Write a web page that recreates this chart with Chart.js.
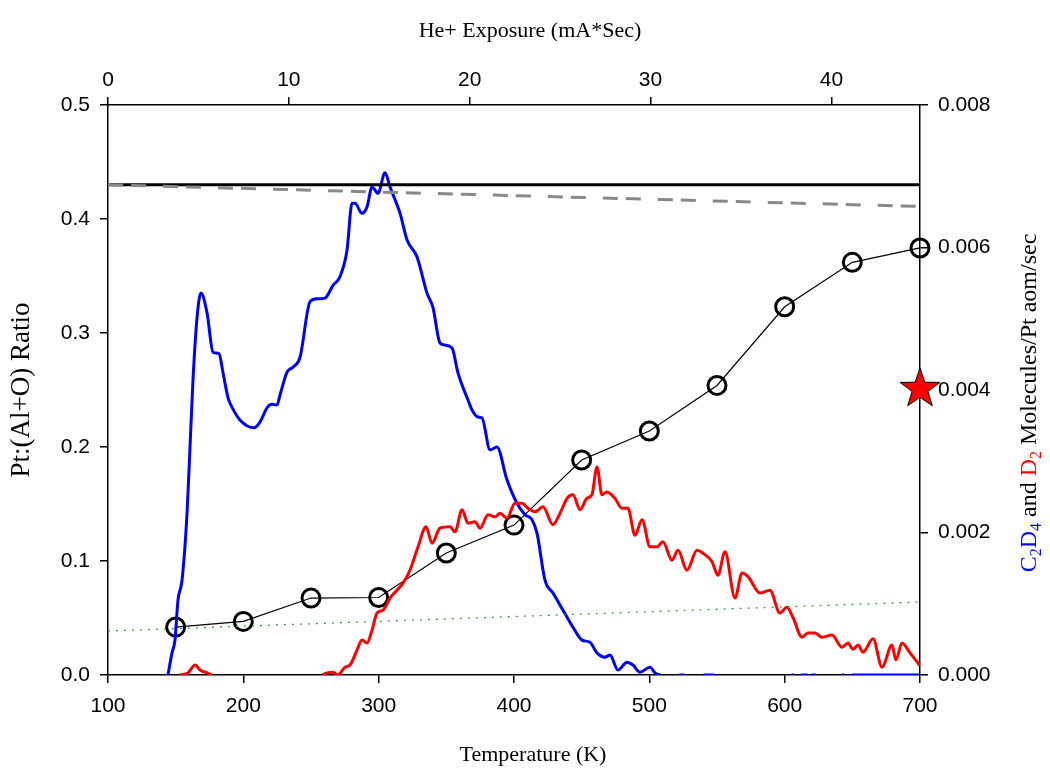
<!DOCTYPE html>
<html>
<head>
<meta charset="utf-8">
<script src="https://cdn.jsdelivr.net/npm/chart.js@4.4.1/dist/chart.umd.min.js"></script>
<style>
  html, body { margin: 0; padding: 0; background: #fff; }
</style>
</head>
<body>
<canvas id="myChart" width="1050" height="770"></canvas>
<script>
/************** data ******/
// Pt:(Al+O) ratio (left axis) vs temperature
var ratioTemps  = [150, 200, 250, 300, 350, 400, 450, 500, 550, 600, 650, 700];
var ratioValues = [0.042, 0.047, 0.0675, 0.068, 0.107, 0.1315, 0.1886, 0.214, 0.254, 0.323, 0.362, 0.3746];

// reference lines (left axis), ends at 100 K and 700 K
var lineTemps     = [100, 700];
var solidLine     = [0.43, 0.43];
var dashedLine    = [0.43, 0.411];
var dottedLine    = [0.0386, 0.064];

// C2D4 desorption (right axis)
var c2d4Temps = [144.3, 147.3, 149.5, 151.7, 154.7, 158.4, 160.6, 162.8, 165.8, 168.7, 173.2, 177.6, 182.0, 185.0, 188.7,
  191.6, 197.5, 207.9, 212.3, 217.5, 221.2, 224.9, 227.1, 232.3, 236.7, 241.9, 249.3, 254.4, 260.3, 266.3, 271.4,
  276.6, 280.3, 282.5, 287.7, 291.4, 295.1, 299.5, 304.7, 308.4, 312.1, 315.8, 320.9, 328.3, 335.7, 340.1, 345.3,
  349.0, 354.2, 358.6, 366.0, 369.0, 373.4, 376.3, 382.3, 387.4, 394.8, 402.2, 408.1, 413.3, 417.0, 422.9, 428.8,
  436.2, 443.6, 450.2, 456.1, 461.3, 467.2, 470.9, 476.8, 483.5, 487.9, 493.1, 500.5, 504.2, 507.9,
  509, 522, 526, 527, 540, 548, 549, 605, 607, 608, 612, 617, 619, 620, 623, 624, 642, 644, 645, 650, 700];
var c2d4Rates = [0, 0.00031, 0.00049, 0.00105, 0.00133, 0.00227, 0.00320, 0.00414, 0.00502, 0.00536, 0.00508, 0.00453, 0.00451, 0.00424, 0.00389,
  0.00376, 0.00358, 0.00347, 0.00355, 0.00375, 0.00380, 0.00379, 0.00393, 0.00425, 0.00432, 0.00446, 0.00524, 0.00528, 0.00529, 0.00547, 0.00559,
  0.00596, 0.00662, 0.00662, 0.00648, 0.00657, 0.00685, 0.00676, 0.00705, 0.00685, 0.00667, 0.00648, 0.00611, 0.00587, 0.00536, 0.00516, 0.00466,
  0.00463, 0.00459, 0.00424, 0.00386, 0.00372, 0.00362, 0.00361, 0.00316, 0.00320, 0.00274, 0.00241, 0.00225, 0.00218, 0.00199, 0.00133, 0.00115,
  0.00091, 0.00067, 0.00049, 0.00046, 0.00031, 0.00025, 0.00028, 0.00007, 0.00018, 0.00014, 0.00004, 0.00011, 0.00003, 0,
  null, 0, 0, null, 0, 0, null, 0, 0, null, 0, 0, null, 0, 0, null, 0, 0, null, 0, 0];

// D2 desorption (right axis)
var d2Temps = [153.2, 159.1, 164.3, 168.0, 173.2, 176.8, 178,
  258.1, 261.8, 266.3, 269.9, 275.1, 278.8, 284.0, 287.7, 291.4, 295.1, 298.8, 303.2, 308.4, 313.5, 318.0, 323.1,
  329.1, 335.0, 339.4, 345.3, 352.7, 356.4, 361.6, 366.0, 371.2, 374.9, 380.8, 386.0, 389.7, 394.8, 400.7, 405.9,
  410.3, 415.5, 421.4, 428.8, 434.0, 439.2, 443.6, 448.8, 453.9, 457.6, 461.3, 465.0, 468.7, 474.6, 479.8, 484.2,
  489.4, 494.6, 500.5, 505.7, 510.1, 516.7, 521.2, 527.8, 535.2, 539.6, 546.3, 550.7, 555.9, 563.3, 568.5, 572.9,
  581.8, 589.1, 596.5, 601.7, 606.1, 612.8, 617.2, 622.4, 627.6, 635.0, 642.4, 646.8, 650.5, 654.2, 657.9, 665.3,
  671.9, 679.3, 682.2, 686.7, 692.6, 700];
var d2Rates = [0, 0.00003, 0.00014, 0.00007, 0.00003, 0, null,
  0, 0.00003, 0.00004, 0, 0.00011, 0.00014, 0.00035, 0.00049, 0.00045, 0.00063, 0.00087, 0.00091, 0.00108, 0.00119, 0.00129, 0.00147,
  0.00180, 0.00208, 0.00185, 0.00206, 0.00208, 0.00201, 0.00232, 0.00213, 0.00215, 0.00206, 0.00225, 0.00222, 0.00227, 0.00220, 0.00241, 0.00241,
  0.00234, 0.00229, 0.00236, 0.00211, 0.00227, 0.00248, 0.00253, 0.00232, 0.00248, 0.00253, 0.00292, 0.00253, 0.00257, 0.00248, 0.00234, 0.00234,
  0.00196, 0.00218, 0.00180, 0.00180, 0.00187, 0.00161, 0.00175, 0.00147, 0.00175, 0.00171, 0.00159, 0.00140, 0.00173, 0.00108, 0.00143, 0.00138,
  0.00115, 0.00119, 0.00087, 0.00095, 0.00081, 0.00053, 0.00059, 0.00059, 0.00053, 0.00056, 0.00039, 0.00045, 0.00036, 0.00042, 0.00032, 0.00051,
  0.00011, 0.00042, 0.00021, 0.00045, 0.00031, 0.00013];

// single marked point (red star)
var starTemp = [700];
var starRate = [0.00403];

// axis ranges / ticks
var tempRange     = [100, 700];
var exposureRange = [0, 44.9];
var ratioRange    = [0, 0.5];
var rateRange     = [0, 0.008];

function pts(xs, ys) {
  return xs.map(function (x, i) { return {x: x, y: ys[i]}; });
}

// filled red star for the marker
var starImg = document.createElement('canvas');
starImg.width = 46; starImg.height = 46;
(function () {
  var c = starImg.getContext('2d');
  c.beginPath();
  for (var i = 0; i < 10; i++) {
    var r = i % 2 === 0 ? 21 : 8.3;
    var a = -Math.PI / 2 + i * Math.PI / 5;
    c.lineTo(23 + r * Math.cos(a), 24 + r * Math.sin(a));
  }
  c.closePath();
  c.fillStyle = '#ff0000';
  c.fill();
  c.lineWidth = 1;
  c.strokeStyle = '#000';
  c.stroke();
})();

var tickFont = {family: '"Liberation Sans", Arial, sans-serif', size: 21};
var serif = '"Liberation Serif", "Times New Roman", serif';

// titles that the axis title option can't do (colours, subscripts, off-centre)
var axisTitles = {
  id: 'axisTitles',
  afterDraw: function (chart) {
    var ctx = chart.ctx;
    ctx.save();
    ctx.fillStyle = '#000';
    ctx.textAlign = 'center';
    ctx.textBaseline = 'middle';
    ctx.font = '22px ' + serif;
    ctx.fillText('He+ Exposure (mA*Sec)', 530, 31);
    ctx.fillText('Temperature (K)', 533, 755);

    var parts = [
      ['C', '#0000ff', 0], ['2', '#0000ff', 1], ['D', '#0000ff', 0], ['4', '#0000ff', 1],
      [' and ', '#000', 0], ['D', '#ff0000', 0], ['2', '#ff0000', 1],
      [' Molecules/Pt aom/sec', '#000', 0]
    ];
    var big = '24px ' + serif, small = '16px ' + serif;
    var total = 0;
    parts.forEach(function (p) { ctx.font = p[2] ? small : big; total += ctx.measureText(p[0]).width; });
    ctx.translate(1036, 403);
    ctx.rotate(-Math.PI / 2);
    ctx.textAlign = 'left';
    ctx.textBaseline = 'alphabetic';
    var x = -total / 2;
    parts.forEach(function (p) {
      ctx.font = p[2] ? small : big;
      ctx.fillStyle = p[1];
      ctx.fillText(p[0], x, p[2] ? 5 : 0);
      x += ctx.measureText(p[0]).width;
    });
    ctx.restore();
  }
};

function axisGrid() {
  return {drawOnChartArea: false, drawTicks: true, tickLength: 8, color: '#000', lineWidth: 1.5};
}
var axisBorder = {display: true, color: '#000', width: 1.5};

new Chart('myChart', {
  type: 'line',
  data: {
    datasets: [
      {data: pts(lineTemps, dottedLine), borderColor: '#3a9a3a', borderWidth: 1.3, borderDash: [2, 6], pointRadius: 0},
      {data: pts(lineTemps, dashedLine), borderColor: '#888888', borderWidth: 3, borderDash: [15, 8, 15, 17], pointRadius: 0},
      {data: pts(lineTemps, solidLine), borderColor: '#000', borderWidth: 3, pointRadius: 0},
      {data: pts(d2Temps, d2Rates), yAxisID: 'y1', borderColor: '#ff0000', borderWidth: 3, pointRadius: 0,
        cubicInterpolationMode: 'monotone'},
      {data: pts(c2d4Temps, c2d4Rates), yAxisID: 'y1', borderColor: '#0000ff', borderWidth: 3, pointRadius: 0,
        cubicInterpolationMode: 'monotone'},
      {data: pts(ratioTemps, ratioValues), borderColor: '#000', borderWidth: 1.2, pointRadius: 9,
        pointBorderWidth: 3, pointBorderColor: '#000', pointBackgroundColor: 'rgba(0,0,0,0)', clip: false},
      {data: pts(starTemp, starRate), yAxisID: 'y1', showLine: false, pointStyle: starImg, pointRadius: 20, clip: false}
    ]
  },
  options: {
    responsive: false,
    animation: false,
    events: [],
    layout: {padding: 0},
    plugins: {legend: {display: false}, tooltip: {enabled: false}},
    scales: {
      x: {
        type: 'linear', position: 'bottom', min: tempRange[0], max: tempRange[1],
        ticks: {stepSize: 100, font: tickFont, color: '#000', padding: 11, maxRotation: 0},
        grid: axisGrid(), border: axisBorder,
        afterFit: function (s) { s.height = 95; }
      },
      x2: {
        type: 'linear', position: 'top', min: exposureRange[0], max: exposureRange[1],
        ticks: {stepSize: 10, includeBounds: false, font: tickFont, color: '#000', padding: 4, maxRotation: 0},
        grid: axisGrid(), border: axisBorder,
        afterFit: function (s) { s.height = 105; }
      },
      y: {
        type: 'linear', position: 'left', min: ratioRange[0], max: ratioRange[1],
        ticks: {stepSize: 0.1, font: tickFont, color: '#000', padding: 10,
          callback: function (v) { return v.toFixed(1); }},
        grid: axisGrid(), border: axisBorder,
        title: {display: true, text: 'Pt:(Al+O) Ratio', color: '#000', font: {family: serif, size: 27}, padding: {top: 6}},
        afterFit: function (s) { s.width = 108; }
      },
      y1: {
        type: 'linear', position: 'right', min: rateRange[0], max: rateRange[1],
        ticks: {stepSize: 0.002, font: tickFont, color: '#000', padding: 10,
          callback: function (v) { return v.toFixed(3); }},
        grid: axisGrid(), border: axisBorder,
        afterFit: function (s) { s.width = 130; }
      }
    }
  },
  plugins: [axisTitles]
});
</script>
</body>
</html>
